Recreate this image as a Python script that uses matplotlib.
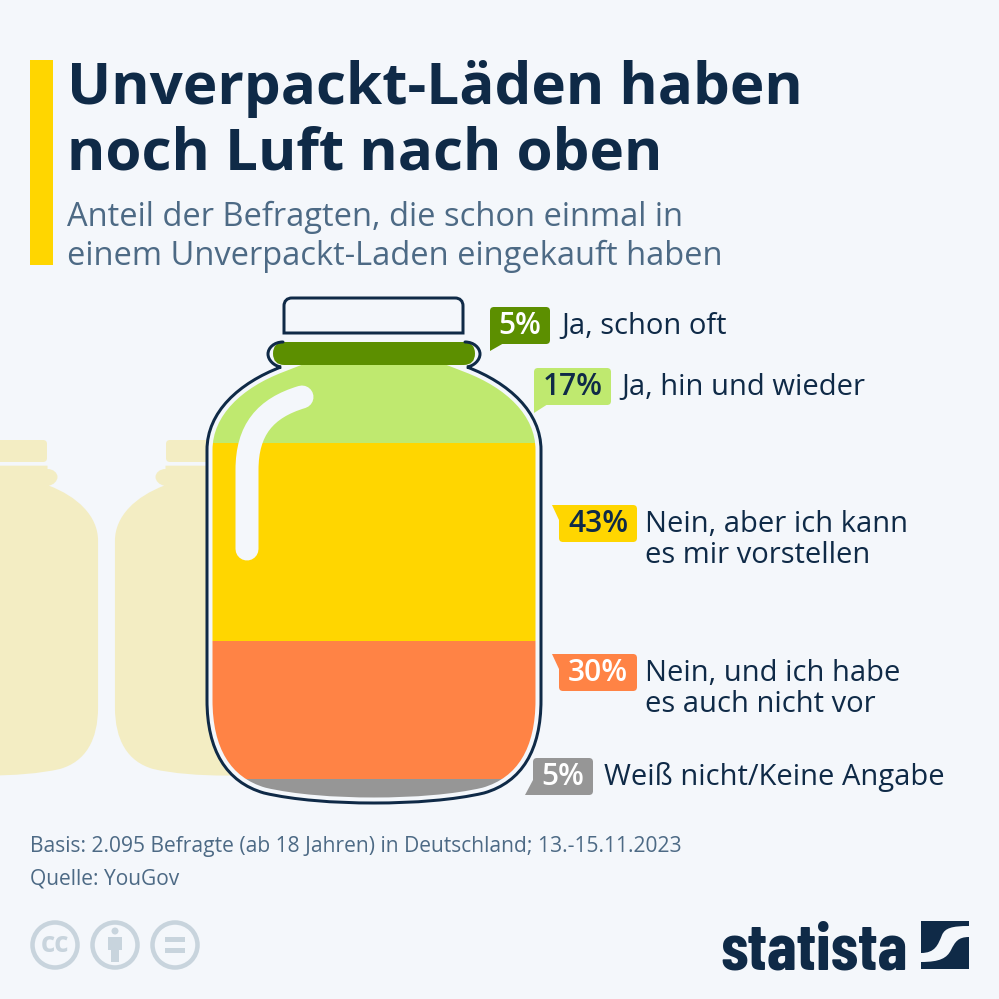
import matplotlib
matplotlib.use("Agg")
import matplotlib.pyplot as plt
from matplotlib.path import Path
from matplotlib.patches import PathPatch, FancyBboxPatch, Polygon, Circle, Rectangle

# data
shares = [5, 17, 43, 30, 5]
share_labels = ["5%", "17%", "43%", "30%", "5%"]
answers = ["Ja, schon oft", "Ja, hin und wieder", "Nein, aber ich kann\nes mir vorstellen",
           "Nein, und ich habe\nes auch nicht vor", "Weiß nicht/Keine Angabe"]
band_colors = ["#5c8f00", "#bfe96f", "#ffd600", "#ff8345", "#969696"]
text_colors = ["white", "#0f2a47", "#0f2a47", "white", "white"]

title_lines = ["Unverpackt-Läden haben", "noch Luft nach oben"]
subtitle_lines = ["Anteil der Befragten, die schon einmal in", "einem Unverpackt-Laden eingekauft haben"]
footer_lines = ["Basis: 2.095 Befragte (ab 18 Jahren) in Deutschland; 13.-15.11.2023", "Quelle: YouGov"]

BG = "#f4f7fb"
NAVY = "#0f2a47"
SLATE = "#4d6a85"
GHOST = "#f3edc3"
ICON = "#c8d4dd"
FONT = "Open Sans"
PX = 0.72  # one pixel in points

fig = plt.figure(figsize=(9.99, 9.99), dpi=100, facecolor=BG)
ax = fig.add_axes([0, 0, 1, 1])
ax.set_xlim(0, 999)
ax.set_ylim(999, 0)
ax.axis("off")


def jar_path(cx, top, s=1.0, closed=True):
    # right side of the jar outline, top to bottom, then mirrored
    right = [(91, 342),
             (100, 342), (106, 348), (106, 354),
             (106, 360), (100, 366), (93, 367),
             (135, 383), (167, 412), (167, 450),
             (167, 500), (167, 650), (167, 700),
             (167, 750), (148, 782), (110, 793),
             (80, 800), (40, 803), (0, 803)]
    left = [(-x, y) for x, y in right[::-1]][1:]
    pts = [(cx + s * x, top + s * (y - 342)) for x, y in right + left]
    codes = [Path.MOVETO] + [Path.CURVE4] * (len(pts) - 1)
    if closed:
        pts = pts + [(pts[-1][0], top - 5 * s), (pts[0][0], top - 5 * s), pts[0]]
        codes = codes + [Path.LINETO] * 3
    return Path(pts, codes)


# ghost jars behind the main one
for gx in [-13, 226]:
    ax.add_patch(PathPatch(jar_path(gx, 469, 0.665), fc=GHOST, ec="none", zorder=1))
    ax.add_patch(FancyBboxPatch((gx - 60, 440), 120, 22, boxstyle="round,pad=0,rounding_size=4",
                                fc=GHOST, ec="none", zorder=1))

# jar bands, one per answer
jar_cx = 374
jar_top = 342
px_per_pct = 4.6
clip = PathPatch(jar_path(jar_cx, jar_top), transform=ax.transData, fc="none", ec="none")
ax.add_patch(clip)
# the top band sits in the neck as a capsule of its own
neck_clip = FancyBboxPatch((273, 342), 202, 23, boxstyle="round,pad=0,rounding_size=11.5",
                           fc="none", ec="none")
ax.add_patch(neck_clip)
bottom = 0
for i, (share, color) in enumerate(zip(shares, band_colors)):
    bar = ax.bar(jar_cx, share * px_per_pct, bottom=jar_top + bottom * px_per_pct, width=340,
                 color=color, zorder=5 if i == 0 else 2)[0]
    bar.set_clip_path(neck_clip if i == 0 else clip)
    bottom += share

# highlight
hl = Path([(247, 549), (247, 470), (247, 430), (265, 408), (302, 397)],
          [Path.MOVETO, Path.LINETO, Path.CURVE4, Path.CURVE4, Path.CURVE4])
ax.add_patch(PathPatch(hl, fc="none", ec=BG, lw=23 * PX, capstyle="round", zorder=3))

# gap between fill and glass, then the glass line
gap = PathPatch(jar_path(jar_cx, jar_top), fc="none", ec=BG, lw=11 * PX, zorder=4)
ax.add_patch(gap)
gap.set_clip_path(clip)
ax.add_patch(PathPatch(jar_path(jar_cx, jar_top, closed=False), fc="none", ec=NAVY, lw=3 * PX,
                       zorder=5, capstyle="round"))

# lid
lid = Path([(284, 333), (284, 306), (284, 301), (287, 298), (292, 298), (455, 298), (460, 298),
            (463, 301), (463, 306), (463, 333), (284, 333)],
           [Path.MOVETO, Path.LINETO, Path.CURVE4, Path.CURVE4, Path.CURVE4, Path.LINETO,
            Path.CURVE4, Path.CURVE4, Path.CURVE4, Path.LINETO, Path.CLOSEPOLY])
ax.add_patch(PathPatch(lid, fc="none", ec=NAVY, lw=3 * PX, zorder=5))

# header
ax.add_patch(Rectangle((30, 60), 23, 205, fc="#ffd600", ec="none"))
for line, y in zip(title_lines, [104, 170]):
    ax.text(67, y, line, fontsize=42, fontweight="bold", color=NAVY, family=FONT, va="baseline")
for line, y in zip(subtitle_lines, [226, 265]):
    ax.text(67, y, line, fontsize=23.5, color=SLATE, family=FONT, va="baseline")

# callouts: box x0, x1, y0, tail polygon, label x, baseline
box_x0 = [490, 534, 559, 559, 533]
box_x1 = [550, 611, 637, 637, 593]
box_y0 = [307, 368, 505, 654, 758]
tails = [[(490, 335), (490, 351), (504, 343)],
         [(534, 396), (534, 413), (548, 404)],
         [(552, 505), (570, 505), (559, 520)],
         [(552, 654), (570, 654), (559, 669)],
         [(533, 780), (525, 795), (548, 795)]]
label_x = [561, 621, 645, 645, 604]
for i in range(len(shares)):
    ax.add_patch(FancyBboxPatch((box_x0[i], box_y0[i]), box_x1[i] - box_x0[i], 37,
                                boxstyle="round,pad=0,rounding_size=4",
                                fc=band_colors[i], ec="none", zorder=6))
    ax.add_patch(Polygon(tails[i], fc=band_colors[i], ec="none", zorder=6))
    base = box_y0[i] + 27
    ax.text((box_x0[i] + box_x1[i]) / 2, base, share_labels[i],
            fontsize=21.5, fontweight="semibold", color=text_colors[i], family=FONT,
            ha="center", va="baseline", zorder=7)
    for j, line in enumerate(answers[i].split("\n")):
        ax.text(label_x[i], base + j * 31, line, fontsize=21, color=NAVY, family=FONT,
                va="baseline", zorder=7)

# footer
for line, y in zip(footer_lines, [852, 884]):
    ax.text(30, y, line, fontsize=15.1, color=SLATE, family=FONT, va="baseline")

# licence icons
for cx in [55, 115, 175]:
    ax.add_patch(Circle((cx, 945), 22.5, fc="none", ec=ICON, lw=4.5 * PX))
ax.text(55, 944, "cc", fontsize=20, fontweight="bold", color=ICON, family=FONT, ha="center", va="center")
ax.add_patch(Circle((115, 931), 3.5, fc=ICON, ec="none"))
ax.add_patch(Rectangle((108, 937), 14, 13, fc=ICON, ec="none"))
ax.add_patch(Rectangle((111, 950), 8, 12, fc=ICON, ec="none"))
ax.add_patch(Rectangle((165, 937), 20, 5, fc=ICON, ec="none"))
ax.add_patch(Rectangle((165, 948), 20, 5, fc=ICON, ec="none"))

# statista logo
ax.text(720, 969, "statista", fontsize=48, fontweight="bold", color=NAVY,
        family=["Barlow Condensed", "Liberation Sans"], va="baseline")
ax.add_patch(Rectangle((921, 921), 48, 48, fc=NAVY, ec="none"))
swoosh = Path([(921, 953), (935, 953), (938, 945), (942, 935), (945, 928), (952, 926), (969, 926),
               (969, 937), (958, 937), (955, 942), (951, 950), (947, 958), (940, 962), (921, 962),
               (921, 953)],
              [Path.MOVETO] + [Path.CURVE4] * 6 + [Path.LINETO] + [Path.CURVE4] * 6 + [Path.CLOSEPOLY])
ax.add_patch(PathPatch(swoosh, fc=BG, ec="none"))

fig.savefig("out.png", dpi=100, facecolor=BG)
